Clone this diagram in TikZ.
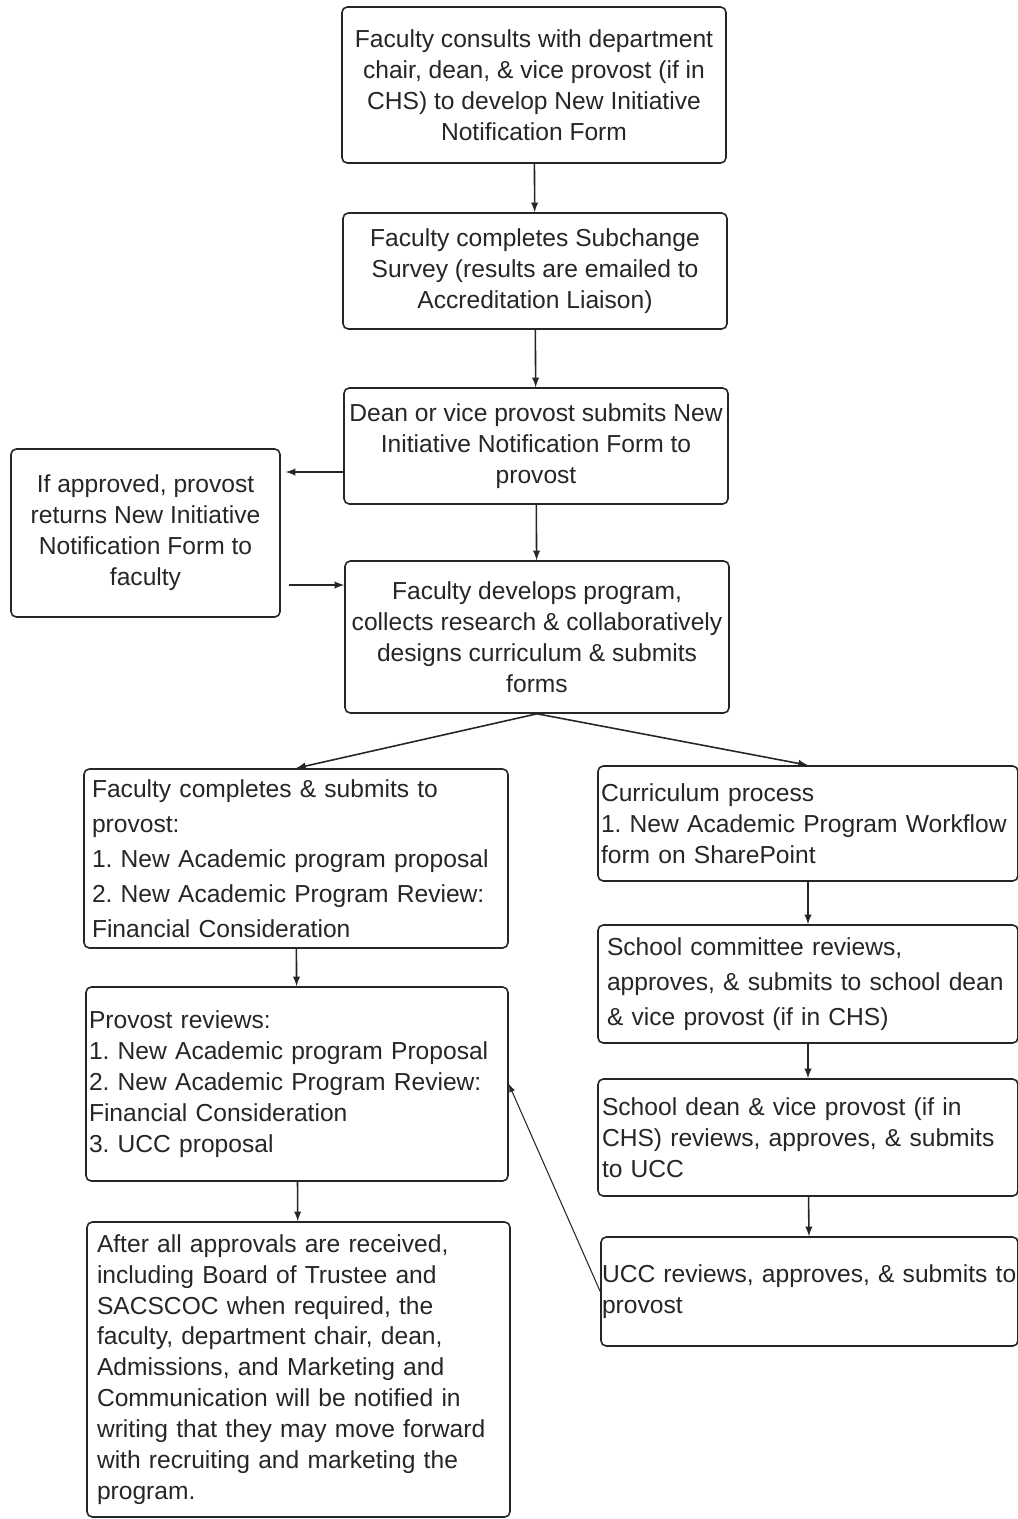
\documentclass[tikz,border=0pt]{standalone}
\usepackage{fontspec}
\setmainfont{Liberation Sans}
\frenchspacing
\begin{document}
\begin{tikzpicture}[
    font=\fontsize{14}{17.6}\selectfont,
    box/.style={rectangle, draw=black!85, text=black!85, line width=0.9pt, rounded corners=3pt, align=center, inner xsep=0pt, inner ysep=0pt},
    listbox/.style={box, align=left},
    loose/.style={font=\fontsize{14}{19.9}\selectfont},
    arrow/.style={->, >=latex, line width=0.9pt, draw=black!85},
]
    \useasboundingbox (0,0) rectangle (20.36,-30.38);

    % Main column
    \node[box, minimum width=7.68cm, minimum height=3.12cm] (consult) at (10.68,-1.70) {Faculty consults with department\\ chair, dean, \& vice provost (if in\\ CHS) to develop New Initiative\\ Notification Form};
    \node[box, minimum width=7.68cm, minimum height=2.32cm, below of=consult, xshift=0.02cm, yshift=-2.72cm] (survey) {Faculty completes Subchange\\ Survey (results are emailed to\\ Accreditation Liaison)};
    \node[box, minimum width=7.68cm, minimum height=2.32cm, below of=survey, xshift=0.02cm, yshift=-2.50cm] (dean) {Dean or vice provost submits New\\ Initiative Notification Form to\\ provost};
    \node[box, minimum width=5.38cm, minimum height=3.36cm, left of=dean, xshift=-6.81cm, yshift=-1.74cm] (approved) {If approved, provost\\ returns New Initiative\\ Notification Form to\\ faculty};
    \node[box, minimum width=7.68cm, minimum height=3.04cm, below of=dean, xshift=0.02cm, yshift=-2.82cm] (develop) {Faculty develops program,\\ collects research \& collaboratively\\ designs curriculum \& submits\\ forms};

    % Provost branch
    \node[listbox, loose, inner xsep=0.16cm, text width=8.16cm, minimum height=3.58cm, below of=develop, xshift=-4.82cm, yshift=-3.43cm] (complete) {Faculty completes \& submits to\\ provost:\\ 1. New Academic program proposal\\ 2. New Academic Program Review:\\ Financial Consideration};
    \node[listbox, inner xsep=0.06cm, text width=8.32cm, minimum height=3.88cm, below of=complete, xshift=0.02cm, yshift=-3.51cm] (review) {Provost reviews:\\ 1. New Academic program Proposal\\ 2. New Academic Program Review:\\ Financial Consideration\\ 3. UCC proposal};
    \node[listbox, inner xsep=0.2cm, text width=8.06cm, minimum height=5.9cm, below of=review, xshift=0.03cm, yshift=-4.71cm] (notify) {After all approvals are received,\\ including Board of Trustee and\\ SACSCOC when required, the\\ faculty, department chair, dean,\\ Admissions, and Marketing and\\ Communication will be notified in\\ writing that they may move forward\\ with recruiting and marketing the\\ program.};

    % Curriculum branch
    \node[listbox, inner xsep=0.06cm, text width=8.28cm, minimum height=2.3cm, below of=develop, xshift=5.42cm, yshift=-2.73cm] (curric) {Curriculum process\\ 1. New Academic Program Workflow\\ form on SharePoint};
    \node[listbox, loose, inner xsep=0.18cm, text width=8.04cm, minimum height=2.36cm, below of=curric, yshift=-2.21cm] (school) {School committee reviews,\\ approves, \& submits to school dean\\ \& vice provost (if in CHS)};
    \node[listbox, inner xsep=0.08cm, text width=8.24cm, minimum height=2.34cm, below of=school, yshift=-2.07cm] (schooldean) {School dean \& vice provost (if in\\ CHS) reviews, approves, \& submits\\ to UCC};
    \node[listbox, inner xsep=0.02cm, text width=8.30cm, minimum height=2.18cm, below of=schooldean, xshift=0.03cm, yshift=-2.08cm] (ucc) {UCC reviews, approves, \& submits to\\ provost};

    % Arrows
    \draw[arrow] (consult) -- (survey);
    \draw[arrow] (survey) -- (dean);
    \draw[arrow] (dean) -- (develop);
    \draw[arrow, shorten >=0.1cm] ([yshift=-0.52cm]dean.west) -- ([yshift=-0.52cm]dean.west -| approved.east);
    \draw[arrow, shorten <=0.16cm] ([yshift=-1.04cm]approved.east) -- ([yshift=-1.04cm]approved.east -| develop.west);
    \draw[arrow] (develop.south) -- (complete.north);
    \draw[arrow] (develop.south) -- (curric.north);
    \draw[arrow] (complete) -- (review);
    \draw[arrow] (review) -- (notify);
    \draw[arrow] (curric) -- (school);
    \draw[arrow] (school) -- (schooldean);
    \draw[arrow] (schooldean) -- (ucc);
    \draw[arrow, line width=0.6pt] (ucc.west) -- (review.east);

\end{tikzpicture}
\end{document}
